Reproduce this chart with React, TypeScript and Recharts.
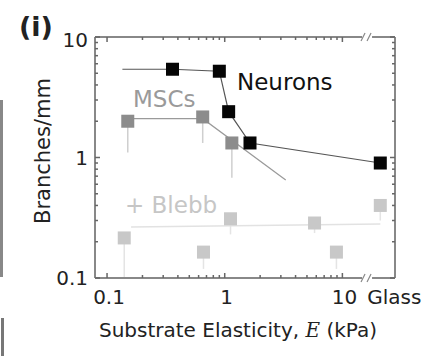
import { ComposedChart, ErrorBar, Scatter, XAxis, YAxis } from "recharts";

// axis ticks
const xMajor = [0.1, 1, 10];
const xMinor = [0.2, 0.3, 0.4, 0.5, 0.6, 0.7, 0.8, 0.9, 2, 3, 4, 5, 6, 7, 8, 9];
const yMajor = [0.1, 1, 10];
const yMinor = [0.2, 0.3, 0.4, 0.5, 0.6, 0.7, 0.8, 0.9, 2, 3, 4, 5, 6, 7, 8, 9];
const GLASS = 21; // glass substrate drawn past the axis break
const BREAK = 16.2;

// neurons
const neuronX = [0.36, 0.9, 1.08, 1.64, GLASS];
const neuronY = [5.4, 5.2, 2.4, 1.32, 0.9];
const neuronFitX = [0.135, 0.36, 0.9, 1.08, 1.64, GLASS];
const neuronFitY = [5.4, 5.4, 5.2, 2.4, 1.32, 0.9];

// MSCs
const mscX = [0.15, 0.65, 1.15];
const mscY = [2.0, 2.17, 1.32];
const mscErrLow = [0.9, 0.85, 0.64];
const mscFitX = [0.15, 0.65, 3.3];
const mscFitY = [2.1, 2.1, 0.65];

// MSCs + blebbistatin
const blebbX = [0.14, 0.66, 1.12, 5.8, 8.9, GLASS];
const blebbY = [0.215, 0.164, 0.31, 0.286, 0.164, 0.4];
const blebbErrLow = [0.115, 0.045, 0.08, 0.05, 0.045, 0.1];
const blebbFitX = [0.16, GLASS];
const blebbFitY = [0.265, 0.28];

const pts = (xs: number[], ys: number[], err?: number[]) =>
  xs.map((x, i) => ({ x, y: ys[i], err: err ? [err[i], 0] : undefined }));

const FONT = "'DejaVu Sans', Verdana, sans-serif";
const AXIS = "#888";

const square = (fill: string, s: number) => (p: any) =>
  <rect x={p.cx - s / 2} y={p.cy - s / 2} width={s} height={s} fill={fill} />;
const noDot = () => <g />;

function XTick({ x, y, payload, side }: any) {
  const v = payload.value;
  const dir = side === "top" ? 1 : -1;
  if (v === BREAK) {
    return (
      <g>
        <rect x={x - 5} y={y - 2} width={10} height={4} fill="#fff" />
        <line x1={x - 6} y1={y + 4} x2={x - 2} y2={y - 4} stroke={AXIS} strokeWidth={1.2} />
        <line x1={x} y1={y + 4} x2={x + 4} y2={y - 4} stroke={AXIS} strokeWidth={1.2} />
      </g>
    );
  }
  const major = xMajor.includes(v);
  const isGlass = v === GLASS;
  return (
    <g>
      {!isGlass && (
        <line x1={x} y1={y} x2={x} y2={y + dir * (major ? 5 : 3)} stroke="#666" strokeWidth={1.5} />
      )}
      {side === "bottom" && (major || isGlass) && (
        <text x={x + (isGlass ? 14 : 2)} y={y + 26} textAnchor="middle" fontSize={20} fill="#222" fontFamily={FONT}>
          {isGlass ? "Glass" : String(v)}
        </text>
      )}
    </g>
  );
}

function YTick({ x, y, payload, side }: any) {
  const v = payload.value;
  const dir = side === "left" ? 1 : -1;
  const major = yMajor.includes(v);
  return (
    <g>
      <line x1={x} y1={y} x2={x + dir * (major ? 5 : 3)} y2={y} stroke="#666" strokeWidth={1.5} />
      {side === "left" && major && (
        <text x={x - 7} y={y + 7 + (v === 10 ? 3 : 0)} textAnchor="end" fontSize={20} fill="#222" fontFamily={FONT}>
          {String(v)}
        </text>
      )}
    </g>
  );
}

export default function App() {
  const xTicks = [...xMajor, ...xMinor, BREAK, GLASS].sort((a, b) => a - b);
  const yTicks = [...yMajor, ...yMinor].sort((a, b) => a - b);
  const xDomain = [0.079, 28];
  const yDomain = [0.1, 10];

  return (
    <div style={{ position: "absolute", left: 0, top: 0, width: 429, height: 356, background: "#fff", fontFamily: FONT }}>
      <ComposedChart width={429} height={356} margin={{ top: 36, right: 33, bottom: 77, left: 94 }}>
        <XAxis
          xAxisId="b"
          dataKey="x"
          type="number"
          scale="log"
          domain={xDomain}
          allowDataOverflow
          ticks={xTicks}
          interval={0}
          tickSize={0}
          tickMargin={0}
          tickLine={false}
          height={1}
          axisLine={{ stroke: AXIS, strokeWidth: 2 }}
          tick={(p: any) => <XTick {...p} side="bottom" />}
        />
        <XAxis
          xAxisId="t"
          orientation="top"
          dataKey="x"
          type="number"
          scale="log"
          domain={xDomain}
          allowDataOverflow
          ticks={xTicks}
          interval={0}
          tickSize={0}
          tickMargin={0}
          tickLine={false}
          height={1}
          axisLine={{ stroke: AXIS, strokeWidth: 2 }}
          tick={(p: any) => <XTick {...p} side="top" />}
        />
        <YAxis
          yAxisId="l"
          dataKey="y"
          type="number"
          scale="log"
          domain={yDomain}
          allowDataOverflow
          ticks={yTicks}
          interval={0}
          tickSize={0}
          tickMargin={0}
          tickLine={false}
          width={1}
          axisLine={{ stroke: AXIS, strokeWidth: 2 }}
          tick={(p: any) => <YTick {...p} side="left" />}
        />
        <YAxis
          yAxisId="r"
          orientation="right"
          dataKey="y"
          type="number"
          scale="log"
          domain={yDomain}
          allowDataOverflow
          ticks={yTicks}
          interval={0}
          tickSize={0}
          tickMargin={0}
          tickLine={false}
          width={1}
          axisLine={{ stroke: AXIS, strokeWidth: 2 }}
          tick={(p: any) => <YTick {...p} side="right" />}
        />

        <Scatter xAxisId="b" yAxisId="l" data={pts(blebbFitX, blebbFitY)} line={{ stroke: "#e2e2e2", strokeWidth: 1.5 }} shape={noDot} isAnimationActive={false} />
        <Scatter xAxisId="b" yAxisId="l" data={pts(mscFitX, mscFitY)} line={{ stroke: "#9a9a9a", strokeWidth: 1.2 }} shape={noDot} isAnimationActive={false} />
        <Scatter xAxisId="b" yAxisId="l" data={pts(neuronFitX, neuronFitY)} line={{ stroke: "#555", strokeWidth: 1.2 }} shape={noDot} isAnimationActive={false} />

        <Scatter xAxisId="b" yAxisId="l" data={pts(blebbX, blebbY, blebbErrLow)} shape={square("#c8c8c8", 13)} isAnimationActive={false}>
          <ErrorBar dataKey="err" direction="y" width={0} stroke="#e4e4e4" strokeWidth={1.5} />
        </Scatter>
        <Scatter xAxisId="b" yAxisId="l" data={pts(mscX, mscY, mscErrLow)} shape={square("#8c8c8c", 13)} isAnimationActive={false}>
          <ErrorBar dataKey="err" direction="y" width={0} stroke="#cfcfcf" strokeWidth={1.5} />
        </Scatter>
        <Scatter xAxisId="b" yAxisId="l" data={pts(neuronX, neuronY)} shape={square("#050505", 13)} isAnimationActive={false} />
      </ComposedChart>

      <svg width={429} height={356} style={{ position: "absolute", left: 0, top: 0, pointerEvents: "none" }}>
        <rect x={0} y={100} width={3} height={177} fill="#888" />
        <rect x={1} y={318} width={3} height={38} fill="#777" />
        <text x={19} y={36} fontSize={27} fontWeight="bold" fill="#222" fontFamily={FONT}>(i)</text>
        <text x={237} y={90} fontSize={23} fill="#111" fontFamily={FONT}>Neurons</text>
        <text x={133} y={107} fontSize={23} fill="#9a9a9a" fontFamily={FONT}>MSCs</text>
        <text x={125} y={213} fontSize={23} fill="#c6c6c6" fontFamily={FONT}>+ Blebb</text>
        <text x={50} y={151} transform="rotate(-90 50 151)" textAnchor="middle" fontSize={21} fill="#222" fontFamily={FONT}>
          Branches/mm
        </text>
        <text x={238} y={337} textAnchor="middle" fontSize={20} fill="#222" fontFamily={FONT}>
          Substrate Elasticity, <tspan fontFamily="'DejaVu Serif', serif" fontStyle="italic">E</tspan> (kPa)
        </text>
      </svg>
    </div>
  );
}
